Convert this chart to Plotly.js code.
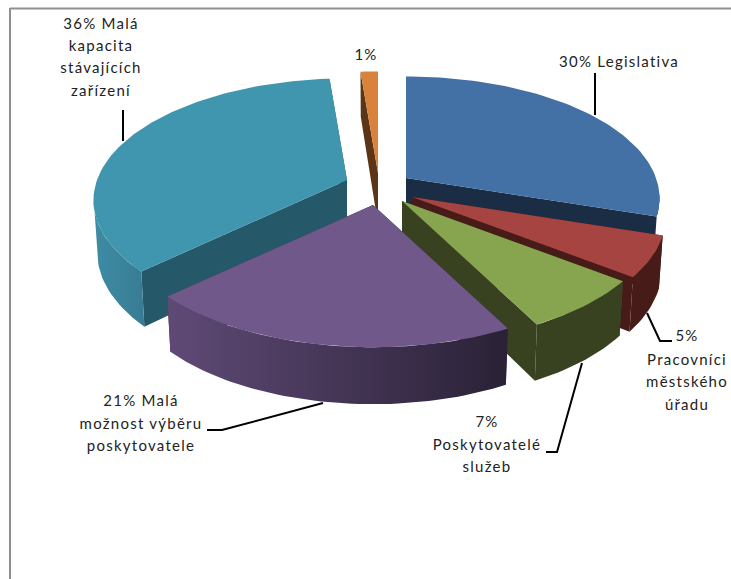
<!DOCTYPE html>
<html><head><meta charset="utf-8">
<script src="https://cdn.plot.ly/plotly-3.0.1.min.js"></script>
<style>html,body{margin:0;padding:0;background:#fff}
#chart text{letter-spacing:1.25px}</style></head>
<body><div id="chart" style="width:731px;height:579px"></div>
<script>
// Data
const categories = ["Legislativa","Pracovníci městského úřadu","Poskytovatelé služeb","Malá možnost výběru poskytovatele","Malá kapacita stávajících zařízení","Ostatní"];
const values = [30,5.4,7,20.6,35.7,1.3];
const topColors = ["#4371a6","#a64442","#87a44e","#70588b","#4096ae","#d9823b"];
const radialWallColors = ["#1b2d44","#471b17","#384120","#3e2f50","#25596a","#5b3515"];
const outerWallFrom = ["#1b2d44","#471b17","#384120","#5f4a76","#3e8ca5","#5b3515"];
const outerWallTo = ["#1b2d44","#471b17","#384120","#2a2136","#377a92","#5b3515"];
const apexX = [406,412,402,373,347,378];
const apexY = [178,197,201,205,180,173];
const drawOrder = [5,4,0,1,2,3];
const labelLines = ["36% Malá","kapacita","stávajících","zařízení","1%","30% Legislativa","21% Malá","možnost výběru","poskytovatele","7%","Poskytovatelé","služeb","5%","Pracovníci","městského","úřadu"];
const labelX = [101,101,101,101,366,619,141,141,141,487,487,487,687,687,687,687];
const labelY = [25,47,69,92,56,63,402,425,447,423,446,468,337,361,383,406];
const leaders = [
  {x:[123,123],y:[110,141]},
  {x:[595,595],y:[73,115]},
  {x:[647,660,672],y:[313,341,341]},
  {x:[582,557,546],y:[363,452,452]},
  {x:[323,222,207],y:[403,430,430]}
];

// Projection of the tilted disc
const A=250,C=118.5,F=6,BOTTOM=0.985,WALL_MIN=95,WALL_MAX=262;
function topPt(i,deg,r){
  const t=deg*Math.PI/180, X=r*Math.sin(t), Y=-r*Math.cos(t), s=F/(F-Y);
  return {x:apexX[i]+A*X*s,y:apexY[i]+C*Y*s,Y:Y,i:i};
}
function botPt(p){ return {x:apexX[p.i]+(p.x-apexX[p.i])*BOTTOM,y:p.y+51+6*p.Y}; }
function arcPts(i,a,b){
  const arc=[];for(let d=a;d<b;d+=1.5)arc.push(topPt(i,d,1));arc.push(topPt(i,b,1));
  return arc;
}
function poly(pts,extra){
  return Object.assign({type:'scatter',mode:'lines',x:pts.map(p=>p.x),y:pts.map(p=>p.y),
    fill:'toself',line:{width:0},hoverinfo:'skip',showlegend:false},extra);
}
const total=values.reduce((a,b)=>a+b,0);
const starts=[];let acc=0;values.forEach(v=>{starts.push(acc);acc+=v/total*360;});

const traces=[];
drawOrder.forEach(i=>{
  const a=starts[i],b=a+values[i]/total*360;
  const arc=arcPts(i,a,b);
  const apex=topPt(i,0,0),apexB=botPt(apex);
  // radial walls
  [arc[0],arc[arc.length-1]].forEach(e=>{
    traces.push(poly([apex,e,botPt(e),apexB],{fillcolor:radialWallColors[i]}));
  });
  // outer wall, front-facing part only
  const wa=Math.max(a,WALL_MIN),wb=Math.min(b,WALL_MAX);
  if(wa<wb){
    const front=arcPts(i,wa,wb);
    const outer=front.concat(front.slice().reverse().map(botPt));
    const wallExtra={fillgradient:{type:'horizontal',colorscale:[[0,outerWallFrom[i]],[1,outerWallTo[i]]]}};
    if(i===4){wallExtra.fillgradient.start=93;wallExtra.fillgradient.stop=150;}
    traces.push(poly(outer,wallExtra));
  }
  // top
  traces.push(poly([apex].concat(arc),{fillcolor:topColors[i]}));
});
leaders.forEach(l=>traces.push({type:'scatter',mode:'lines',x:l.x,y:l.y,line:{color:'#000',width:2},hoverinfo:'skip',showlegend:false}));
traces.push({type:'scatter',mode:'text',x:labelX,y:labelY,text:labelLines,textposition:'middle center',
  textfont:{family:'Lato, sans-serif',size:15,color:'#222'},hoverinfo:'skip',showlegend:false,cliponaxis:false});

const layout={width:731,height:579,margin:{l:0,r:0,t:0,b:0},paper_bgcolor:'#fff',plot_bgcolor:'#fff',
  xaxis:{range:[0,731],visible:false,fixedrange:true},
  yaxis:{range:[579,0],visible:false,fixedrange:true},
  shapes:[{type:'line',xref:'x',yref:'y',x0:10,y0:8.5,x1:731,y1:8.5,line:{color:'#8f8f8f',width:2}},
          {type:'line',xref:'x',yref:'y',x0:10,y0:8,x1:10,y1:579,line:{color:'#8f8f8f',width:2}}]};
Plotly.newPlot('chart',traces,layout,{displayModeBar:false,staticPlot:true});
</script></body></html>
